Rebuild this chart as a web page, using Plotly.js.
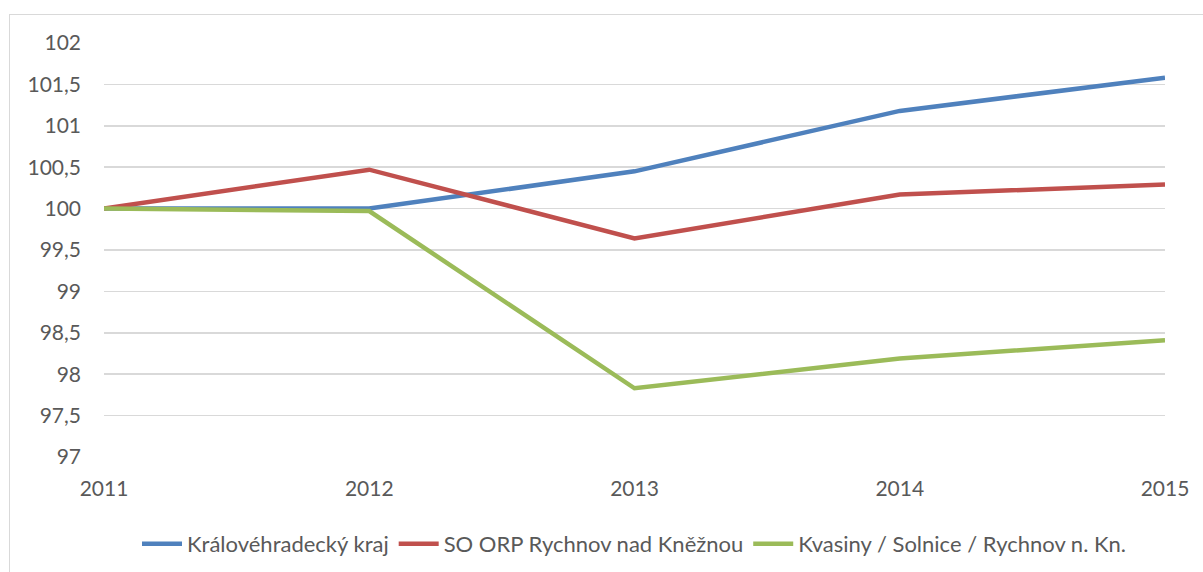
<!DOCTYPE html>
<html>
<head>
<meta charset="utf-8">
<script src="https://cdn.plot.ly/plotly-3.0.1.min.js"></script>
<style>
  html, body { margin: 0; padding: 0; background: #fff; overflow: hidden; }
  #wrap { position: relative; width: 1203px; height: 572px; }
  #frame { position: absolute; left: 9px; top: 14px; width: 1300px; height: 700px; border: 1px solid #d9d9d9; box-sizing: border-box; }
  #chart { position: absolute; left: 0; top: 0; width: 1203px; height: 572px; }
</style>
</head>
<body>
<div id="wrap">
  <div id="frame"></div>
  <div id="chart"></div>
</div>
<script>
const years = [2011, 2012, 2013, 2014, 2015];
const seriesNames = ["Královéhradecký kraj", "SO ORP Rychnov nad Kněžnou", "Kvasiny / Solnice / Rychnov n. Kn."];
const kraj = [100, 100.0, 100.45, 101.18, 101.58];
const orp = [100, 100.47, 99.64, 100.17, 100.29];
const kvasiny = [100, 99.97, 97.83, 98.19, 98.41];
const yTicks = [97, 97.5, 98, 98.5, 99, 99.5, 100, 100.5, 101, 101.5, 102];
const colors = ["#4f81bd", "#c0504d", "#9bbb59"];

const FONT = "Lato, 'Open Sans', sans-serif";
const values = [kraj, orp, kvasiny];
const traces = values.map((v, i) => ({
  type: "scatter",
  mode: "lines",
  x: years,
  y: v,
  name: seriesNames[i],
  line: { color: colors[i], width: 4.5 }
}));

const layout = {
  width: 1203,
  height: 572,
  paper_bgcolor: "rgba(0,0,0,0)",
  plot_bgcolor: "rgba(0,0,0,0)",
  separators: ", ",
  margin: { l: 104, r: 38, t: 43, b: 115, autoexpand: false },
  font: { family: FONT, color: "#595959", size: 21 },
  showlegend: true,
  legend: {
    orientation: "h",
    x: 0.5, xanchor: "center",
    y: -0.21, yanchor: "middle",
    font: { family: FONT, size: 22, color: "#595959" },
    itemwidth: 40,
    traceorder: "normal"
  },
  xaxis: {
    type: "linear",
    range: [2011, 2015],
    tickvals: years,
    ticktext: years.map(String),
    showgrid: false,
    zeroline: false,
    showline: false,
    ticks: "",
    ticklabelstandoff: 17,
    automargin: false,
    tickfont: { family: FONT, size: 21, color: "#595959" }
  },
  yaxis: {
    range: [97, 102],
    tickvals: yTicks,
    ticktext: yTicks.map(v => String(v).replace(".", ",")),
    showgrid: true,
    gridcolor: "#d9d9d9",
    gridwidth: 1.5,
    zeroline: false,
    showline: false,
    ticks: "",
    ticklabelstandoff: 22,
    automargin: false,
    tickfont: { family: FONT, size: 21, color: "#595959" }
  }
};

Plotly.newPlot("chart", traces, layout, { displayModeBar: false, staticPlot: true });
</script>
</body>
</html>
